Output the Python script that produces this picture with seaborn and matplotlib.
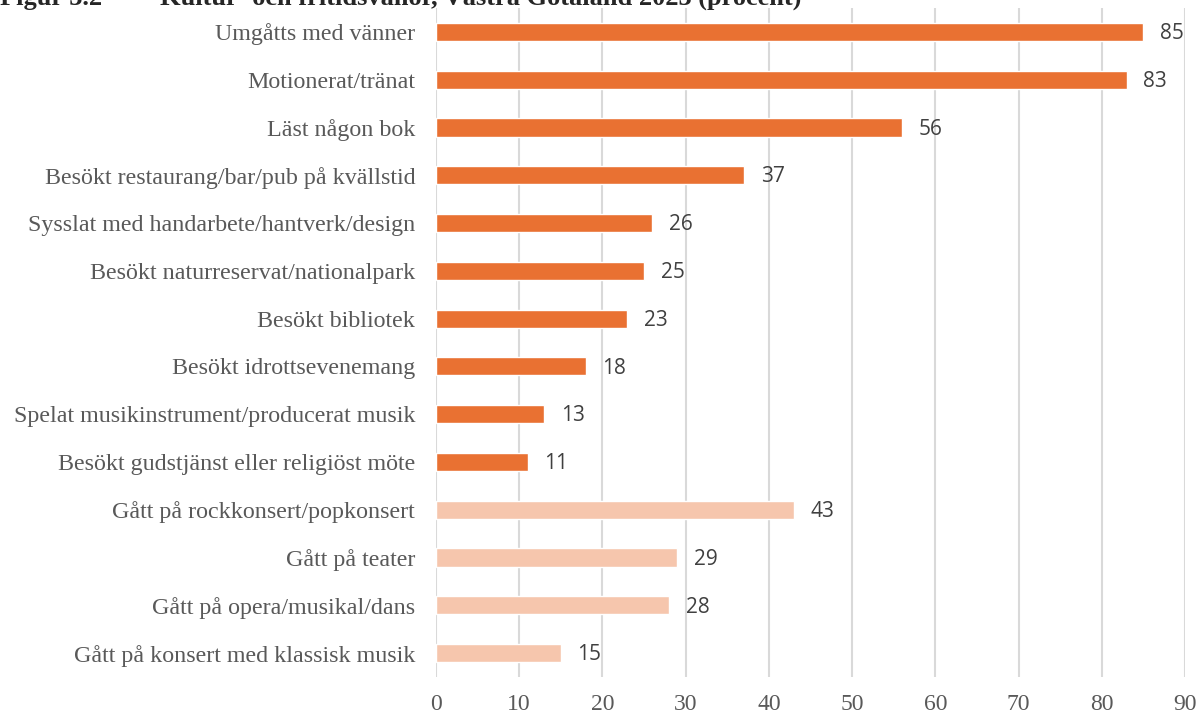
import pandas as pd
import matplotlib.pyplot as plt
import seaborn as sns

# värden
aktiviteter = [
    'Umgåtts med vänner',
    'Motionerat/tränat',
    'Läst någon bok',
    'Besökt restaurang/bar/pub på kvällstid',
    'Sysslat med handarbete/hantverk/design',
    'Besökt naturreservat/nationalpark',
    'Besökt bibliotek',
    'Besökt idrottsevenemang',
    'Spelat musikinstrument/producerat musik',
    'Besökt gudstjänst eller religiöst möte',
    'Gått på rockkonsert/popkonsert',
    'Gått på teater',
    'Gått på opera/musikal/dans',
    'Gått på konsert med klassisk musik',
]
procent = [85, 83, 56, 37, 26, 25, 23, 18, 13, 11, 43, 29, 28, 15]
grupp = ['fritid'] * 10 + ['kultur'] * 4

df = pd.DataFrame({'aktivitet': aktiviteter, 'procent': procent, 'grupp': grupp})

sns.set_style('white')
plt.rcParams['font.family'] = ['Liberation Serif', 'DejaVu Serif']

fig = plt.figure(figsize=(12, 7.15), dpi=100)
ax = fig.add_axes([0.3633, 0.0531, 0.6242, 0.9357])

sns.barplot(data=df, y='aktivitet', x='procent', hue='grupp', dodge=False,
            palette={'fritid': '#E97132', 'kultur': '#F6C6AD'}, saturation=1,
            width=0.38, legend=False, ax=ax, zorder=3)

for cont in ax.containers:
    anns = ax.bar_label(cont, padding=12, fontsize=15, color='#404040',
                        family=['Open Sans', 'DejaVu Sans'])
    for a in anns:
        a.xyann = (12, -1.2)

ax.set_xlim(0, 90)
ax.set_xticks(range(0, 91, 10))
ax.set_ylim(13.5, -0.5)
ax.grid(axis='x', color='#d9d9d9', linewidth=1.5, zorder=0)
ax.grid(axis='y', visible=False)
for s in ax.spines.values():
    s.set_visible(False)
ax.set_xlabel('')
ax.set_ylabel('')
ax.tick_params(axis='y', length=0, pad=15, labelsize=17.3, labelcolor='#595959')
ax.tick_params(axis='x', length=0, pad=12, labelsize=17, labelcolor='#595959')

# rubriken är avklippt i originalet, bara nederkanten syns
fig.text(0.0, 1 - 4.5 / 715, 'Figur 3.2', fontsize=19, fontweight='bold',
         va='baseline', ha='left')
fig.text(160 / 1200, 1 - 4.5 / 715,
         'Kultur- och fritidsvanor, Västra Götaland 2023 (procent)',
         fontsize=19, fontweight='bold', va='baseline', ha='left')

fig.savefig('out.png', dpi=100)
